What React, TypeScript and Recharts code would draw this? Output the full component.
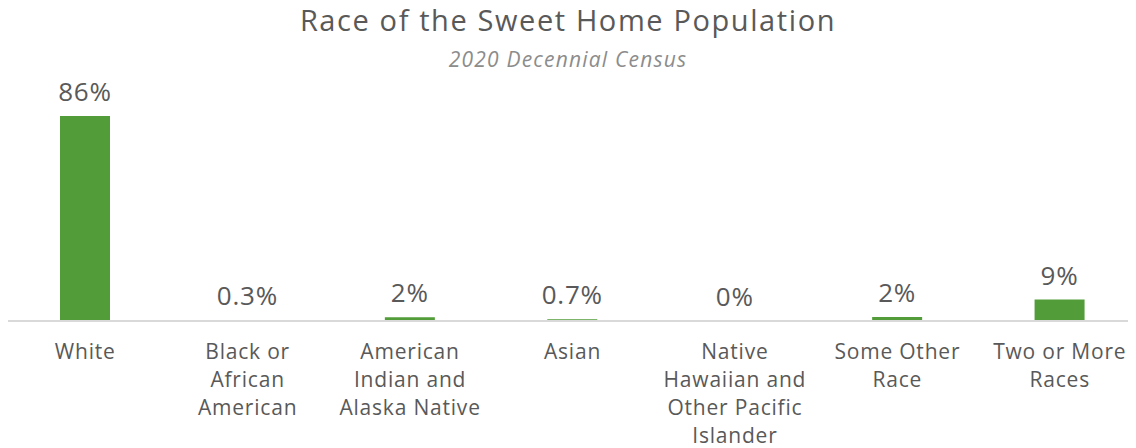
import { BarChart, Bar, XAxis, YAxis, LabelList } from 'recharts'

const CATEGORIES = [
  'White',
  'Black or\nAfrican\nAmerican',
  'American\nIndian and\nAlaska Native',
  'Asian',
  'Native\nHawaiian and\nOther Pacific\nIslander',
  'Some Other\nRace',
  'Two or More\nRaces',
]
const VALUES = [86, 0.3, 1.6, 0.7, 0, 1.7, 9]
const VALUE_LABELS = ['86%', '0.3%', '2%', '0.7%', '0%', '2%', '9%']

const TITLE = 'Race of the Sweet Home Population'
const SUBTITLE = '2020 Decennial Census'

const FONT = '"Open Sans", "DejaVu Sans", sans-serif'
const TEXT = '#595959'
const GREEN = '#529D3A'

const data = CATEGORIES.map((name, i) => ({ name, value: VALUES[i], label: VALUE_LABELS[i] }))

function CategoryTick(props: any) {
  const { x, y, payload } = props
  const lines = String(payload.value).split('\n')
  return (
    <text x={x} y={y} textAnchor="middle" fill={TEXT} fontSize={21} fontFamily={FONT} letterSpacing={0.8}>
      {lines.map((line, i) => (
        <tspan key={i} x={x} dy={i === 0 ? 30 : 28}>
          {line}
        </tspan>
      ))}
    </text>
  )
}

export default function App() {
  return (
    <div
      style={{
        position: 'relative',
        width: 1136,
        height: 448,
        margin: '-8px 0 0 -8px',
        overflow: 'hidden',
        background: '#fff',
      }}
    >
      <div
        style={{
          position: 'absolute',
          top: 0,
          left: 0,
          width: 1136,
          textAlign: 'center',
          fontFamily: FONT,
          fontSize: 29,
          letterSpacing: 1.6,
          color: TEXT,
        }}
      >
        {TITLE}
      </div>
      <div
        style={{
          position: 'absolute',
          top: 45,
          left: 0,
          width: 1136,
          textAlign: 'center',
          fontFamily: FONT,
          fontSize: 21,
          fontStyle: 'italic',
          letterSpacing: 1.2,
          color: '#8c8c8c',
        }}
      >
        {SUBTITLE}
      </div>
      <BarChart width={1141} height={448} data={data} margin={{ top: 116, right: 0, left: 4, bottom: 0 }}>
        <XAxis
          dataKey="name"
          axisLine={{ stroke: '#d9d9d9', strokeWidth: 2 }}
          tickLine={false}
          interval={0}
          height={127}
          tick={<CategoryTick />}
        />
        <YAxis hide domain={[0, 86]} />
        <Bar dataKey="value" fill={GREEN} barSize={50} minPointSize={0.3} isAnimationActive={false}>
          <LabelList
            dataKey="label"
            position="top"
            offset={15}
            fill={TEXT}
            fontSize={26}
            fontFamily={FONT}
            letterSpacing={0.8}
          />
        </Bar>
      </BarChart>
    </div>
  )
}
